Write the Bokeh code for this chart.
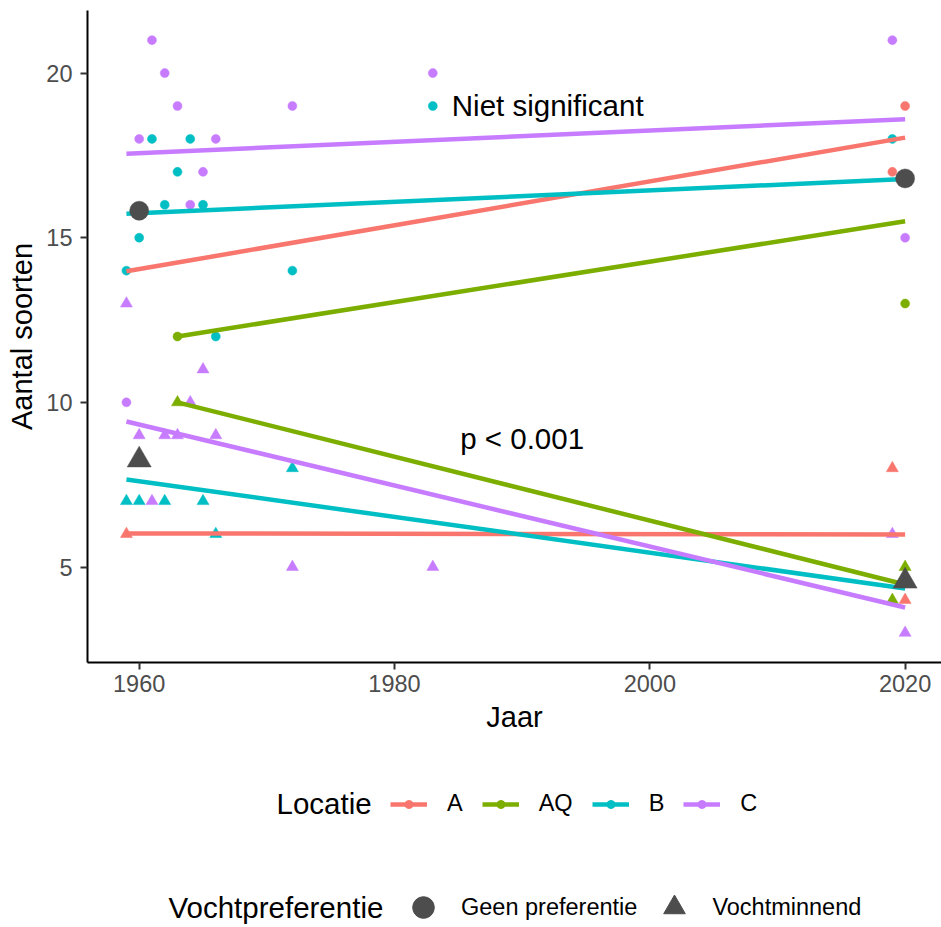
from bokeh.plotting import figure
from bokeh.layouts import column
from bokeh.models import ColumnDataSource, Legend, LegendItem, FixedTicker, Range1d, Label
from bokeh.core.properties import value
from bokeh.embed import file_html
from bokeh.resources import INLINE

# ---------------- data ----------------
locations = ["A", "AQ", "B", "C"]
loc_colors = ["#F8766D", "#7CAE00", "#00BFC4", "#C77CFF"]
prefs = ["Geen preferentie", "Vochtminnend"]

# observations (Locatie, Vochtpreferentie, Jaar, Aantal soorten)
obs_loc = (["A"] * 2 + ["AQ"] * 2 + ["B"] * 11 + ["C"] * 12
           + ["A"] * 3 + ["AQ"] * 3 + ["B"] * 6 + ["C"] * 12)
obs_pref = ["Geen preferentie"] * 27 + ["Vochtminnend"] * 24
obs_year = [2019, 2020,
            1963, 2020,
            1959, 1960, 1961, 1962, 1963, 1964, 1965, 1966, 1972, 1983, 2019,
            1959, 1960, 1961, 1962, 1963, 1964, 1965, 1966, 1972, 1983, 2019, 2020,
            1959, 2019, 2020,
            1963, 2019, 2020,
            1959, 1960, 1962, 1965, 1966, 1972,
            1959, 1960, 1961, 1962, 1963, 1964, 1965, 1966, 1972, 1983, 2019, 2020]
obs_count = [17, 19,
             12, 13,
             14, 15, 18, 16, 17, 18, 16, 12, 14, 19, 18,
             10, 18, 21, 20, 19, 16, 17, 18, 19, 20, 21, 15,
             6, 8, 4,
             10, 4, 5,
             7, 7, 7, 7, 6, 8,
             13, 9, 7, 9, 9, 10, 11, 9, 5, 5, 6, 3]

# fitted trend lines
trend_loc = ["A", "A", "AQ", "AQ", "B", "B", "C", "C"]
trend_pref = prefs * 4
trend_x0 = [1959, 1959, 1963, 1963, 1959, 1959, 1959, 1959]
trend_x1 = [2020, 2020, 2020, 2020, 2020, 2020, 2020, 2020]
trend_y0 = [13.98, 6.02, 12.0, 10.0, 15.73, 7.66, 17.55, 9.42]
trend_y1 = [18.04, 5.99, 15.5, 4.47, 16.78, 4.35, 18.60, 3.77]

# period means
mean_pref = ["Geen preferentie", "Geen preferentie", "Vochtminnend", "Vochtminnend"]
mean_year = [1960, 2020, 1960, 2020]
mean_value = [15.82, 16.80, 8.25, 4.57]

# annotations
note_text = ["Niet significant", "p < 0.001"]
note_x = [1992, 1990]
note_y = [19.0, 8.9]

x_ticks = [1960, 1980, 2000, 2020]
y_ticks = [5, 10, 15, 20]

legend_titles = ["Locatie", "Vochtpreferentie"]

FONT = "Liberation Sans"

# ---------------- main figure ----------------
p = figure(width=941, height=742, output_backend="svg", toolbar_location=None,
           x_range=Range1d(1955.95, 2022.85), y_range=Range1d(2.1, 21.9),
           min_border_left=87, min_border_right=0, min_border_top=10,
           min_border_bottom=80)
p.outline_line_color = None
p.xgrid.visible = False
p.ygrid.visible = False
p.background_fill_color = "white"
p.border_fill_color = "white"

marker_for = {"Geen preferentie": "circle", "Vochtminnend": "triangle"}
size_for = {"Geen preferentie": 9, "Vochtminnend": 12}
mean_size_for = {"Geen preferentie": 19, "Vochtminnend": 24}

point_src = {}
for loc, col in zip(locations, loc_colors):
    for pref in prefs:
        idx = [i for i in range(len(obs_year)) if obs_loc[i] == loc and obs_pref[i] == pref]
        src = ColumnDataSource(dict(x=[obs_year[i] for i in idx],
                                    y=[obs_count[i] for i in idx]))
        point_src[(loc, pref)] = src
        p.scatter("x", "y", source=src, marker=marker_for[pref],
                  size=size_for[pref], fill_color=col, line_color=col, line_width=0.5)

trend_src = {}
for loc, col in zip(locations, loc_colors):
    idx = [i for i, l in enumerate(trend_loc) if l == loc]
    src = ColumnDataSource(dict(x0=[trend_x0[i] for i in idx], y0=[trend_y0[i] for i in idx],
                                x1=[trend_x1[i] for i in idx], y1=[trend_y1[i] for i in idx]))
    trend_src[loc] = src
    p.segment("x0", "y0", "x1", "y1", source=src, line_color=col,
              line_width=4.5, line_cap="butt")

mean_src = {}
for pref in prefs:
    idx = [i for i, m in enumerate(mean_pref) if m == pref]
    src = ColumnDataSource(dict(x=[mean_year[i] for i in idx], y=[mean_value[i] for i in idx]))
    mean_src[pref] = src
    p.scatter("x", "y", source=src, marker=marker_for[pref],
              size=mean_size_for[pref], fill_color="#4D4D4D",
              line_color="#4D4D4D", line_width=0.5)

p.text(x=note_x, y=note_y, text=note_text, text_font=value(FONT),
       text_font_size="29.5px", text_align="center", text_baseline="middle",
       text_color="black")

for ax in (p.xaxis[0], p.yaxis[0]):
    ax.axis_line_color = "black"
    ax.axis_line_width = 2
    ax.major_tick_line_color = "#333333"
    ax.major_tick_line_width = 2
    ax.major_tick_out = 7
    ax.major_tick_in = 0
    ax.minor_tick_line_color = None
    ax.major_label_text_font = FONT
    ax.major_label_text_font_size = "23.5px"
    ax.major_label_text_color = "#4D4D4D"
    ax.axis_label_text_font = FONT
    ax.axis_label_text_font_size = "29px"
    ax.axis_label_text_font_style = "normal"
    ax.axis_label_text_color = "black"

p.xaxis.ticker = FixedTicker(ticks=x_ticks)
p.yaxis.ticker = FixedTicker(ticks=y_ticks)
p.xaxis.axis_label = "Jaar"
p.yaxis.axis_label = "Aantal soorten"
p.xaxis.major_label_standoff = 5
p.xaxis.axis_label_standoff = 6
p.yaxis.major_label_standoff = 8
p.yaxis.axis_label_standoff = 5

# ---------------- legend panel ----------------
lf = figure(width=941, height=185, output_backend="svg", toolbar_location=None,
            x_range=Range1d(0, 1), y_range=Range1d(0, 1),
            min_border_left=87, min_border_right=0, min_border_top=0, min_border_bottom=0,
            x_axis_location=None, y_axis_location=None)
lf.outline_line_color = None
lf.grid.visible = False
lf.background_fill_color = "white"
lf.border_fill_color = "white"

# key renderers: same sources and styles, hidden in this panel, shown only as legend keys
key_items = []
for loc, col in zip(locations, loc_colors):
    kl = lf.segment("x0", "y0", "x1", "y1", source=trend_src[loc], line_color=col,
                    line_width=4.5, visible=False)
    kp = lf.scatter("x", "y", source=point_src[(loc, "Geen preferentie")], marker="circle",
                    fill_color=col, line_color=col, visible=False)
    key_items.append(LegendItem(label=loc, renderers=[kl, kp]))
pref_items = []
for pref in prefs:
    km = lf.scatter("x", "y", source=mean_src[pref], marker=marker_for[pref],
                    fill_color="#4D4D4D", line_color="#4D4D4D", visible=False)
    pref_items.append(LegendItem(label=pref, renderers=[km]))

common = dict(orientation="horizontal", padding=0, margin=0, border_line_color=None,
              background_fill_alpha=0, label_text_font=FONT, label_text_font_size="23.5px",
              label_text_color="black", label_text_baseline="middle", label_width=10,
              click_policy="none", inactive_fill_alpha=0)

leg1 = Legend(items=key_items, location=(303, 110), glyph_width=37, glyph_height=20,
              label_standoff=20, spacing=19, **common)
leg2 = Legend(items=pref_items, location=(309, -7), glyph_width=54, glyph_height=54,
              label_standoff=11, spacing=10, **common)
lf.add_layout(leg1)
lf.add_layout(leg2)

for title, tx, ty in zip(legend_titles, [189, 81], [124, 20]):
    lf.add_layout(Label(x=tx, y=ty, x_units="screen", y_units="screen", text=title,
                        text_font=FONT, text_font_size="29.5px", text_color="black",
                        text_baseline="middle", text_align="left"))

layout = column(p, lf, spacing=0)
open("out.html", "w").write(file_html(layout, INLINE))
